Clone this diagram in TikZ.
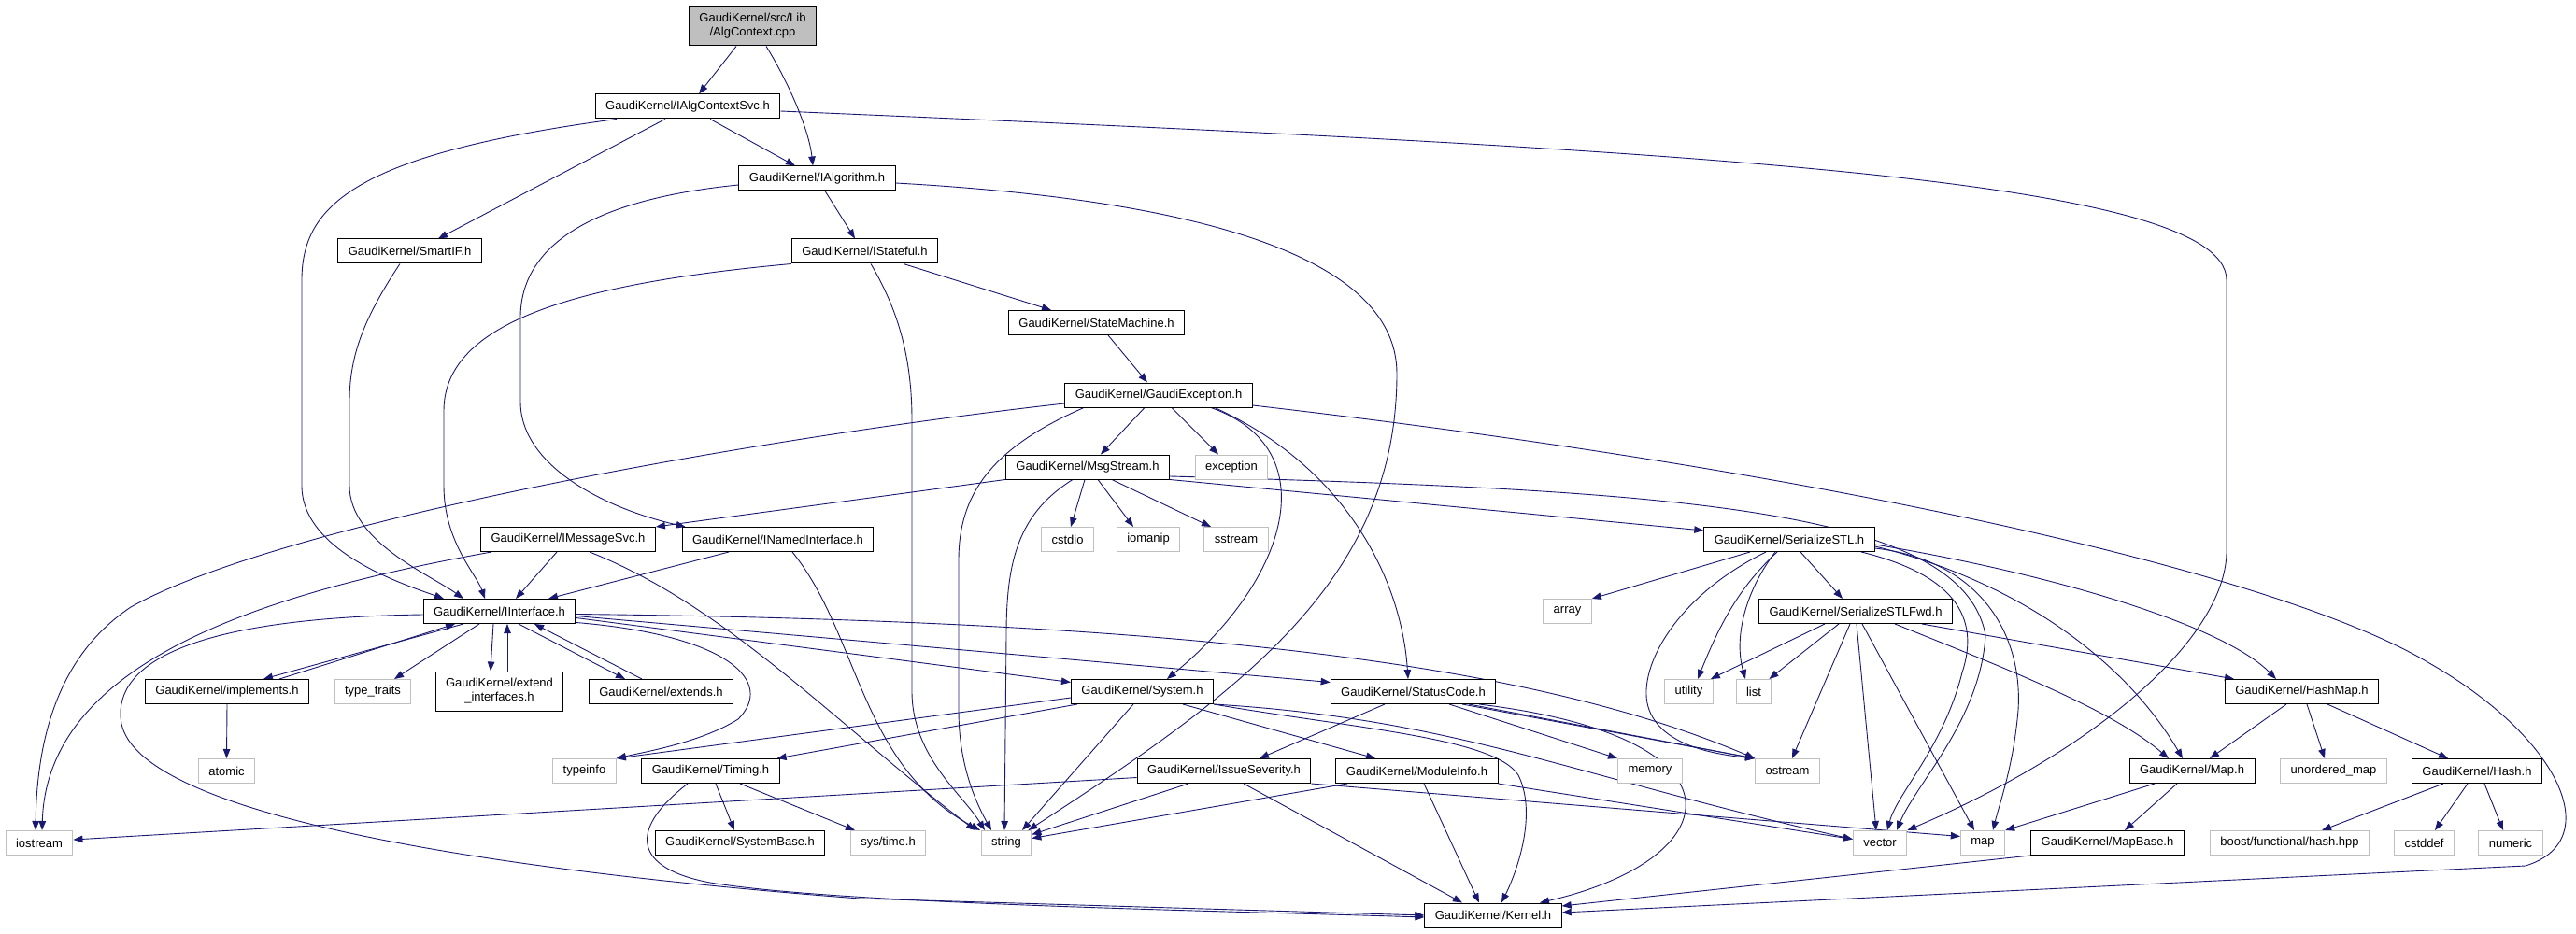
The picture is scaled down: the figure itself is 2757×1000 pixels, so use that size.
\documentclass[tikz,border=0pt]{standalone}
\usepackage{fontspec}
\setmainfont{Liberation Sans}
\usetikzlibrary{arrows.meta}
\definecolor{edgeblue}{HTML}{191970}
\definecolor{sysgray}{HTML}{BFBFBF}
\pgfdeclarelayer{background}
\pgfsetlayers{background,main}

\tikzset{
  hdr/.style={draw=black, fill=white, line width=1pt, minimum height=26pt,
    inner xsep=11pt, inner ysep=0pt, font=\fontsize{13}{15}\selectfont},
  stdhdr/.style={hdr, draw=sysgray},
  twoline/.style={hdr, align=center, minimum height=42pt},
  srcfile/.style={twoline, fill=sysgray},
  dep/.style={draw=edgeblue, line width=0.9pt, -{Triangle[length=10pt,width=7.5pt]}},
}

\begin{document}
\begin{tikzpicture}[x=1pt, y=-1pt]
\useasboundingbox (0,0) rectangle (2757,1000);

% Source file and direct includes
\node[srcfile] (src) at (805.5,28) {GaudiKernel/src/Lib\\/AlgContext.cpp};
\node[hdr] (svc) at (736,114) {GaudiKernel/IAlgContextSvc.h};
\node[hdr] (alg) at (874.5,191) {GaudiKernel/IAlgorithm.h};
\node[hdr] (smart) at (438.5,269) {GaudiKernel/SmartIF.h};
\node[hdr] (state) at (925.5,269) {GaudiKernel/IStateful.h};
\node[hdr] (fsm) at (1173.5,345.5) {GaudiKernel/StateMachine.h};
\node[hdr] (gexc) at (1240,423) {GaudiKernel/GaudiException.h};

% Message stream layer
\node[hdr] (msg) at (1164,500) {GaudiKernel/MsgStream.h};
\node[stdhdr] (exc) at (1318,500) {exception};
\node[hdr] (imsg) at (608,577.5) {GaudiKernel/IMessageSvc.h};
\node[hdr] (inamed) at (832.5,577.5) {GaudiKernel/INamedInterface.h};
\node[stdhdr] (cstdio) at (1142.5,577.5) {cstdio};
\node[stdhdr] (iomanip) at (1229,577.5) {iomanip};
\node[stdhdr] (sstream) at (1323,577.5) {sstream};
\node[hdr] (ser) at (1915,577.5) {GaudiKernel/SerializeSTL.h};

% Interface layer
\node[hdr] (iif) at (534.5,654.5) {GaudiKernel/IInterface.h};
\node[stdhdr] (array) at (1677.5,654.5) {array};
\node[hdr] (fwd) at (1986,654.5) {GaudiKernel/SerializeSTLFwd.h};

\node[hdr] (impl) at (243,740.5) {GaudiKernel/implements.h};
\node[stdhdr] (traits) at (399,740.5) {type\_traits};
\node[twoline] (extif) at (534.5,740) {GaudiKernel/extend\\\_interfaces.h};
\node[hdr] (ext) at (707.5,740.5) {GaudiKernel/extends.h};
\node[hdr] (sys) at (1222.5,740.5) {GaudiKernel/System.h};
\node[hdr] (sc) at (1512.5,740.5) {GaudiKernel/StatusCode.h};
\node[stdhdr] (utility) at (1807.5,740.5) {utility};
\node[stdhdr] (list) at (1877,740.5) {list};
\node[hdr] (hmap) at (2463.5,740.5) {GaudiKernel/HashMap.h};

\node[stdhdr] (atomic) at (242.5,825.5) {atomic};
\node[stdhdr] (typeinfo) at (625.5,825.5) {typeinfo};
\node[hdr] (timing) at (760.5,825.5) {GaudiKernel/Timing.h};
\node[hdr] (sev) at (1310,825.5) {GaudiKernel/IssueSeverity.h};
\node[hdr] (modinfo) at (1516.5,825.5) {GaudiKernel/ModuleInfo.h};
\node[stdhdr] (memory) at (1766,825.5) {memory};
\node[stdhdr] (ostream) at (1913,825.5) {ostream};
\node[hdr] (mapg) at (2346,825.5) {GaudiKernel/Map.h};
\node[stdhdr] (umap) at (2497.5,825.5) {unordered\_map};
\node[hdr] (hash) at (2651,825.5) {GaudiKernel/Hash.h};

% Bottom rows
\node[stdhdr] (iostream) at (42,902.5) {iostream};
\node[hdr] (sysbase) at (792,902.5) {GaudiKernel/SystemBase.h};
\node[stdhdr] (systime) at (950.5,902.5) {sys/time.h};
\node[stdhdr] (string) at (1077,902.5) {string};
\node[stdhdr] (vector) at (2012,902.5) {vector};
\node[stdhdr] (map) at (2122,902.5) {map};
\node[hdr] (mapbase) at (2255.5,902.5) {GaudiKernel/MapBase.h};
\node[stdhdr] (boost) at (2450.5,902.5) {boost/functional/hash.hpp};
\node[stdhdr] (cstddef) at (2594.5,902.5) {cstddef};
\node[stdhdr] (numeric) at (2687,902.5) {numeric};
\node[hdr] (kernel) at (1598,980) {GaudiKernel/Kernel.h};

\begin{pgfonlayer}{background}
% AlgContext.cpp
\draw[dep] ([xshift=-17.5pt]src.south) -- ([xshift=12pt]svc.north);
\draw[dep] ([xshift=14.5pt]src.south) .. controls (845,90) and (866,140) .. ([xshift=-4.5pt]alg.north);

% IAlgContextSvc.h
\draw[dep] ([xshift=24pt]svc.south) -- ([xshift=-23.5pt]alg.north);
\draw[dep] ([xshift=-24pt]svc.south) -- ([xshift=30.5pt]smart.north);
\draw[dep] ([xshift=-76pt]svc.south) .. controls (380,165) and (323,220) .. (323,300) -- (323,520) .. controls (323,590) and (430,625) .. ([xshift=-59.5pt]iif.north);
\draw[dep] ([yshift=-5pt]svc.east) .. controls (1800,160) and (2383,190) .. (2383,300) -- (2383,590) .. controls (2383,680) and (2250,800) .. (vector.north east);

% IAlgorithm.h
\draw[dep] ([xshift=8.5pt]alg.south) -- ([xshift=-10.5pt]state.north);
\draw[dep] ([yshift=-7pt]alg.west) .. controls (620,215) and (557,270) .. (557,340) -- (557,430) .. controls (557,500) and (650,545) .. ([xshift=4pt]inamed.north west);
\draw[dep] ([yshift=-5pt]alg.east) .. controls (1300,215) and (1495,280) .. (1495,400) .. controls (1495,620) and (1330,740) .. ([xshift=-4pt]string.north east);

% SmartIF.h
\draw[dep] ([xshift=-10.5pt]smart.south) .. controls (390,340) and (374,380) .. (374,430) -- (374,520) .. controls (374,580) and (460,615) .. ([xshift=-38.5pt]iif.north);

% IStateful.h
\draw[dep] ([xshift=41.5pt]state.south) -- ([xshift=-48.5pt]fsm.north);
\draw[dep] (state.south west) .. controls (600,305) and (475,350) .. (475,440) -- (475,520) .. controls (475,580) and (510,615) .. ([xshift=-15.5pt]iif.north);
\draw[dep] ([xshift=6.5pt]state.south) .. controls (960,330) and (976,380) .. (976,450) -- (976,740) .. controls (976,810) and (1030,850) .. ([xshift=-23pt]string.north);

% StateMachine.h
\draw[dep] ([xshift=12.5pt]fsm.south) -- ([xshift=-12pt]gexc.north);

% GaudiException.h
\draw[dep] ([xshift=-15pt]gexc.south) -- ([xshift=14pt]msg.north);
\draw[dep] ([xshift=14pt]gexc.south) -- ([xshift=-14pt]exc.north);
\draw[dep] ([yshift=-9pt]gexc.west) .. controls (800,470) and (300,560) .. (140,650) .. controls (80,690) and (40,760) .. ([xshift=-4pt]iostream.north);
\draw[dep] ([yshift=-11pt]gexc.east) .. controls (2000,510) and (2450,620) .. (2600,710) .. controls (2740,790) and (2790,900) .. (2703,927) -- ([yshift=3pt]kernel.east);
\draw[dep] ([xshift=56pt]gexc.south) .. controls (1420,480) and (1380,620) .. ([xshift=26.5pt]sys.north);
\draw[dep] ([xshift=60pt]gexc.south) .. controls (1440,500) and (1500,620) .. ([xshift=-5.5pt]sc.north);
\draw[dep] ([xshift=-80pt]gexc.south) .. controls (1060,480) and (1026,530) .. (1026,600) -- (1026,760) .. controls (1026,820) and (1045,860) .. ([xshift=-16pt]string.north);

% MsgStream.h
\draw[dep] (msg.south west) -- (imsg.north east);
\draw[dep] ([xshift=-3pt]msg.south) -- ([xshift=3.5pt]cstdio.north);
\draw[dep] ([xshift=11pt]msg.south) -- ([xshift=-16pt]iomanip.north);
\draw[dep] ([xshift=26pt]msg.south) -- ([xshift=-27pt]sstream.north);
\draw[dep] ([xshift=-16pt]msg.south) .. controls (1090,550) and (1077,600) .. (1077,680) -- ([xshift=-2pt]string.north);
\draw[dep] (msg.south east) -- ([yshift=9.5pt]ser.west);
\draw[dep] ([yshift=-10pt]msg.east) .. controls (1800,525) and (2100,545) .. (2125,680) .. controls (2120,770) and (2050,840) .. ([xshift=18pt]vector.north);

% IMessageSvc.h
\draw[dep] ([xshift=-12pt]imsg.south) -- ([xshift=17.5pt]iif.north);
\draw[dep] ([xshift=12pt]imsg.south west) .. controls (250,640) and (50,720) .. ([xshift=3pt]iostream.north);
\draw[dep] ([xshift=23pt]imsg.south) .. controls (780,650) and (900,780) .. ([xshift=-33pt]string.north);

% INamedInterface.h
\draw[dep] ([xshift=-52.5pt]inamed.south) -- ([xshift=52.5pt]iif.north);
\draw[dep] ([xshift=15.5pt]inamed.south) .. controls (920,680) and (920,820) .. ([xshift=-28pt]string.north);

% IInterface.h
\draw[dep] ([xshift=-38.5pt]iif.south) -- ([xshift=39pt]impl.north);
\draw[dep] ([xshift=-21.5pt]iif.south) -- ([xshift=23pt]traits.north);
\draw[dep] ([xshift=-6.5pt]iif.south) -- ([xshift=-9.5pt]extif.north);
\draw[dep] ([xshift=20.5pt]iif.south) -- ([xshift=-38.5pt]ext.north);
\draw[dep] ([yshift=-12pt]iif.east) .. controls (780,680) and (830,730) .. (790,770) .. controls (750,795) and (690,805) .. (typeinfo.north east);
\draw[dep] ([yshift=-7pt]iif.east) -- ([yshift=10pt]sys.west);
\draw[dep] ([yshift=-5pt]iif.east) -- ([yshift=10pt]sc.west);
\draw[dep] ([yshift=-3pt]iif.east) .. controls (1300,665) and (1650,715) .. (ostream.north west);
\draw[dep] ([yshift=-3.5pt]iif.west) .. controls (180,662) and (120,720) .. (130,775) .. controls (150,870) and (500,930) .. (920,962) -- (kernel.west);

% back edges to IInterface.h
\draw[dep] ([xshift=56pt]impl.north) -- ([xshift=-47.5pt]iif.south);
\draw[dep] (impl.south) -- (atomic.north);
\draw[dep] ([xshift=8.5pt]extif.north) -- ([xshift=8.5pt]iif.south);
\draw[dep] ([xshift=-20.5pt]ext.north) -- ([xshift=37.5pt]iif.south);

% System.h
\draw[dep] ([xshift=7pt]sys.south west) -- ([xshift=-3pt]timing.north east);
\draw[dep] ([yshift=-6.5pt]sys.west) -- (typeinfo.north east);
\draw[dep] ([xshift=-9.5pt]sys.south) -- ([xshift=17pt]string.north);
\draw[dep] ([xshift=43.5pt]sys.south) -- ([xshift=-44.5pt]modinfo.north);
\draw[dep] (sys.south east) .. controls (1450,780) and (1600,790) .. (1625,830) .. controls (1645,870) and (1625,930) .. ([xshift=9pt]kernel.north);
\draw[dep] (sys.south east) .. controls (1560,770) and (1680,830) .. ([yshift=4pt]vector.west);

% Timing.h
\draw[dep] ([xshift=5.5pt]timing.south) -- ([xshift=-6pt]sysbase.north);
\draw[dep] ([xshift=31.5pt]timing.south) -- ([xshift=-35.5pt]systime.north);
\draw[dep] ([xshift=-24.5pt]timing.south) .. controls (670,890) and (680,930) .. (760,945) .. controls (900,968) and (1300,975) .. ([yshift=-2pt]kernel.west);

% StatusCode.h
\draw[dep] ([xshift=-30.5pt]sc.south) -- ([xshift=38pt]sev.north);
\draw[dep] ([xshift=38.5pt]sc.south) -- (memory.north west);
\draw[dep] ([xshift=52.5pt]sc.south) -- (ostream.north west);
\draw[dep] ([xshift=59.5pt]sc.south) -- (ostream.north west);
\draw[dep] ([xshift=70.5pt]sc.south) .. controls (1880,790) and (1850,920) .. ([xshift=50pt]kernel.north);

% IssueSeverity.h
\draw[dep] ([yshift=-7pt]sev.west) -- ([yshift=3.5pt]iostream.east);
\draw[dep] ([xshift=-38pt]sev.south) -- ([yshift=9pt]string.east);
\draw[dep] ([xshift=21pt]sev.south) -- ([xshift=-33pt]kernel.north);
\draw[dep] (sev.south east) -- ([yshift=7pt]map.west);

% ModuleInfo.h
\draw[dep] ([xshift=-74.5pt]modinfo.south) -- ([yshift=5pt]string.east);
\draw[dep] ([xshift=7.5pt]modinfo.south) -- ([xshift=-15pt]kernel.north);
\draw[dep] (modinfo.south east) -- ([yshift=4pt]vector.west);

% SerializeSTL.h
\draw[dep] ([xshift=12pt]ser.south) -- ([xshift=-14pt]fwd.north);
\draw[dep] ([xshift=-42pt]ser.south) -- (array.north east);
\draw[dep] ([xshift=-13pt]ser.south) .. controls (1860,630) and (1840,670) .. ([xshift=9.5pt]utility.north);
\draw[dep] ([xshift=-15pt]ser.south) .. controls (1870,630) and (1855,680) .. ([xshift=-9pt]list.north);
\draw[dep] ([xshift=-25pt]ser.south) .. controls (1790,640) and (1750,720) .. (1765,760) .. controls (1780,800) and (1840,808) .. (ostream.north west);
\draw[dep] ([xshift=77pt]ser.south) .. controls (2090,615) and (2120,660) .. (2100,720) .. controls (2080,800) and (2030,850) .. ([xshift=8pt]vector.north);
\draw[dep] ([yshift=-9.5pt]ser.east) .. controls (2120,600) and (2165,680) .. (2160,760) .. controls (2155,820) and (2140,860) .. ([xshift=11pt]map.north);
\draw[dep] ([yshift=-7.5pt]ser.east) .. controls (2150,620) and (2270,700) .. ([xshift=-10pt]mapg.north);
\draw[dep] ([yshift=-5.5pt]ser.east) .. controls (2200,615) and (2380,670) .. ([xshift=-27.5pt]hmap.north);

% SerializeSTLFwd.h
\draw[dep] ([xshift=-33pt]fwd.south) -- ([xshift=-3pt]utility.north east);
\draw[dep] ([xshift=-18pt]fwd.south) -- ([xshift=-3pt]list.north east);
\draw[dep] ([xshift=-6pt]fwd.south) -- ([xshift=5pt]ostream.north);
\draw[dep] ([xshift=1pt]fwd.south) -- ([xshift=-4pt]vector.north);
\draw[dep] ([xshift=7pt]fwd.south) -- ([xshift=-9pt]map.north);
\draw[dep] ([xshift=42pt]fwd.south) .. controls (2150,717) and (2260,760) .. ([xshift=-25pt]mapg.north);
\draw[dep] ([xshift=71pt]fwd.south) -- ([xshift=-72.5pt]hmap.north);

% HashMap.h, Map.h, Hash.h, MapBase.h
\draw[dep] ([xshift=-16.5pt]hmap.south) -- ([xshift=19pt]mapg.north);
\draw[dep] ([xshift=5.5pt]hmap.south) -- ([xshift=-9.5pt]umap.north);
\draw[dep] ([xshift=27.5pt]hmap.south) -- ([xshift=-31pt]hash.north);
\draw[dep] ([xshift=-40pt]mapg.south) -- (map.north east);
\draw[dep] ([xshift=-16pt]mapg.south) -- ([xshift=18.5pt]mapbase.north);
\draw[dep] ([xshift=-36pt]hash.south) -- ([xshift=34.5pt]boost.north);
\draw[dep] ([xshift=-10pt]hash.south) -- ([xshift=11.5pt]cstddef.north);
\draw[dep] ([xshift=8pt]hash.south) -- ([xshift=-8pt]numeric.north);
\draw[dep] (mapbase.south west) -- ([yshift=10pt]kernel.east);
\end{pgfonlayer}

\end{tikzpicture}
\end{document}
